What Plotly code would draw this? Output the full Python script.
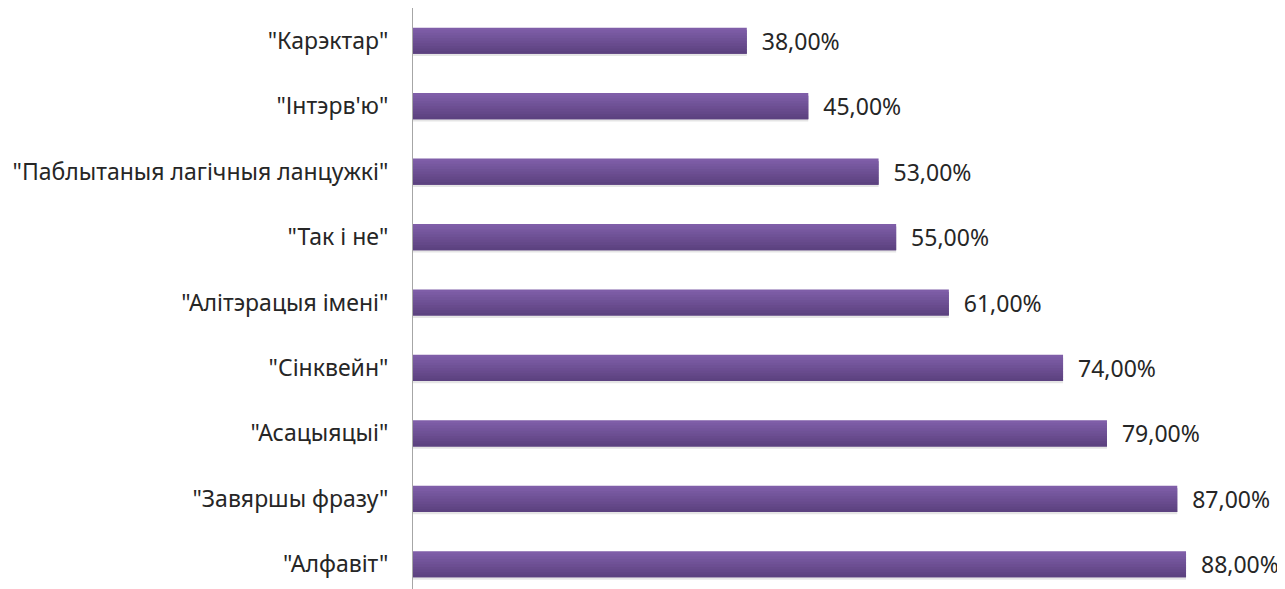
import plotly.graph_objects as go

categories = ['"Карэктар"', '"Інтэрв\'ю"', '"Паблытаныя лагічныя ланцужкі"', '"Так і не"',
              '"Алітэрацыя імені"', '"Сінквейн"', '"Асацыяцыі"', '"Завяршы фразу"', '"Алфавіт"']
values = [38, 45, 53, 55, 61, 74, 79, 87, 88]

top_rgb = (127, 94, 168)
bot_rgb = (92, 66, 128)
n_strips = 10
bar_w = 0.4
strip_w = bar_w / n_strips

fig = go.Figure()
# soft shadow
fig.add_trace(go.Bar(
    x=values, y=categories, orientation='h', width=bar_w, offset=-bar_w / 2 + 0.035,
    marker=dict(color='rgba(0,0,0,0.10)', line=dict(width=0)), hoverinfo='skip',
))
for i in range(n_strips):
    t = i / (n_strips - 1)
    c = tuple(round(top_rgb[k] + (bot_rgb[k] - top_rgb[k]) * t) for k in range(3))
    w = strip_w if i == n_strips - 1 else strip_w * 2
    fig.add_trace(go.Bar(
        x=values, y=categories, orientation='h', width=w,
        offset=-bar_w / 2 + i * strip_w,
        marker=dict(color='rgb(%d,%d,%d)' % c, line=dict(width=0)),
        hoverinfo='skip',
    ))
# labels
fig.add_trace(go.Bar(
    x=values, y=categories, orientation='h', width=bar_w,
    marker=dict(color='rgba(0,0,0,0)', line=dict(width=0)),
    texttemplate='\u00a0\u00a0%{x:.2f}%', textposition='outside', constraintext='none',
    textfont=dict(family='Noto Sans', size=23, color='#262626'),
    cliponaxis=False,
))
fig.update_layout(
    width=1285, height=589, autosize=False,
    margin=dict(l=405, r=20, t=0, b=0, autoexpand=False),
    paper_bgcolor='white', plot_bgcolor='white',
    separators=', ',
    showlegend=False,
    barmode='overlay',
    xaxis=dict(range=[0, 97.9], visible=False, automargin=False),
    yaxis=dict(categoryorder='array', categoryarray=categories, range=[8.5, -0.5],
               automargin=False,
               showline=True, linecolor='#a6a6a6', linewidth=1, ticks='', ticklabelstandoff=19,
               tickfont=dict(family='Noto Sans', size=23, color='#262626'), showgrid=False),
)
fig.write_html("out.html")
